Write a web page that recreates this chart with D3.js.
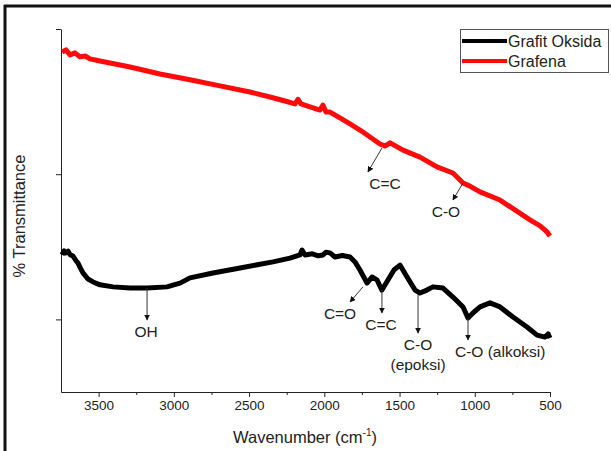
<!DOCTYPE html>
<html>
<head>
<meta charset="utf-8">
<script src="https://cdn.jsdelivr.net/npm/d3@7"></script>
<style>
  body { margin: 0; background: #fff; }
  svg text { font-family: "Liberation Sans", Arial, sans-serif; fill: #222; }
</style>
</head>
<body>
<svg id="chart" width="611" height="451"></svg>
<script>
// Grafit Oksida (wavenumber cm-1, transmittance a.u.)
const oksidaWn = [3743, 3730, 3717, 3703, 3690, 3670, 3650, 3637, 3620, 3604, 3571, 3537, 3491, 3404, 3291,
    3178, 3046, 2959, 2893, 2740, 2560, 2341, 2228, 2162, 2148, 2128, 2080, 2040, 2009, 1990, 1962, 1929,
    1880, 1829, 1796, 1763, 1716, 1683, 1650, 1617, 1577, 1537, 1497, 1450, 1397, 1364, 1318, 1278, 1211,
    1145, 1078, 1045, 1012, 965, 899, 832, 746, 653, 586, 533, 513, 500];
const oksidaT = [47.2, 48.6, 47.9, 48.5, 47.3, 46.8, 45.2, 44.4, 42.6, 41.0, 38.9, 37.9, 36.9, 36.2, 35.8,
    35.8, 36.2, 37.5, 39.3, 41.0, 42.7, 44.8, 46.1, 47.2, 48.9, 47.2, 47.6, 46.9, 47.2, 48.1, 47.9, 46.5,
    47.0, 46.5, 44.8, 42.0, 37.5, 39.6, 38.6, 35.1, 38.6, 42.0, 43.7, 39.6, 35.1, 34.1, 35.1, 36.2, 35.8,
    32.7, 29.3, 25.5, 27.2, 29.3, 30.7, 29.3, 25.8, 22.4, 19.6, 18.9, 20.0, 18.6];

// Grafena
const grafenaWn = [3743, 3717, 3690, 3657, 3624, 3590, 3557, 3491, 3424, 3291, 3092, 2893, 2693, 2494, 2361,
    2261, 2195, 2175, 2155, 2095, 2029, 2009, 1989, 1962, 1896, 1829, 1763, 1696, 1630, 1597, 1563, 1477,
    1364, 1251, 1145, 1078, 1032, 965, 832, 733, 633, 566, 520, 500];
const grafenaT = [117.1, 117.8, 116.1, 116.8, 115.4, 115.7, 114.7, 114.0, 113.3, 111.9, 109.5, 107.5, 105.4,
    103.3, 101.6, 100.2, 99.2, 100.8, 99.2, 98.2, 97.1, 98.8, 96.4, 96.4, 94.4, 92.3, 90.2, 87.8, 85.4, 84.7,
    85.8, 83.3, 80.9, 77.5, 75.4, 72.0, 70.9, 68.9, 66.1, 62.7, 59.3, 57.2, 55.1, 53.7];

const xTicks = [3500, 3000, 2500, 2000, 1500, 1000, 500];
const xMinorTicks = [3250, 2750, 2250, 1750, 1250, 750];
const yTicks = [25, 75, 125];

const seriesNames = ["Grafit Oksida", "Grafena"];
const seriesColors = ["#000000", "#ff0a0a"];

// peak labels: arrow from (wn, t) to (wn2, t2)
const peaks = [
    {lines: ["OH"], wn: 3178, t: 35.8, wn2: 3178, t2: 24.8, anchor: "middle", dx: -1},
    {lines: ["C=O"], wn: 1743, t: 36.2, wn2: 1829, t2: 31.0, anchor: "middle", dx: -10},
    {lines: ["C=C"], wn: 1617, t: 35.1, wn2: 1617, t2: 27.2, anchor: "middle", dx: -1},
    {lines: ["C-O", "(epoksi)"], wn: 1377, t: 33.4, wn2: 1377, t2: 20.3, anchor: "middle", dx: 0},
    {lines: ["C-O (alkoksi)"], wn: 1045, t: 25.5, wn2: 1045, t2: 17.9, anchor: "start", dx: -13},
    {lines: ["C=C"], wn: 1617, t: 84.0, wn2: 1710, t2: 75.8, anchor: "middle", dx: 17},
    {lines: ["C-O"], wn: 1078, t: 72.0, wn2: 1145, t2: 66.1, anchor: "middle", dx: -7}
];

const svg = d3.select("#chart");

// outer frame (top + left edge of the figure box)
svg.append("line").attr("x1", 4).attr("x2", 611).attr("y1", 6).attr("y2", 6)
    .attr("stroke", "#111").attr("stroke-width", 3);
svg.append("line").attr("x1", 5).attr("x2", 5).attr("y1", 5).attr("y2", 451)
    .attr("stroke", "#111").attr("stroke-width", 3);

const x = d3.scaleLinear().domain([3750, 500]).range([61, 550]);
const y = d3.scaleLinear().domain([0, 125]).range([392, 29]);

// axes
const xAxis = svg.append("g").attr("transform", "translate(0,392)")
    .call(d3.axisBottom(x).tickValues(xTicks).tickFormat(d3.format("d"))
        .tickSize(5).tickPadding(3).tickSizeOuter(0));
xAxis.select(".domain").attr("stroke", "#222");
xAxis.selectAll(".tick line").attr("stroke", "#222");
xAxis.selectAll("text").attr("font-size", 13.5).attr("fill", "#222")
    .attr("font-family", "Liberation Sans, Arial, sans-serif");

svg.append("g").attr("transform", "translate(0,392)")
    .call(d3.axisBottom(x).tickValues(xMinorTicks).tickSize(3).tickFormat(""))
    .call(g => g.select(".domain").remove())
    .selectAll(".tick line").attr("stroke", "#222");

const yAxis = svg.append("g").attr("transform", "translate(61,0)")
    .call(d3.axisLeft(y).tickValues(yTicks).tickSize(5).tickFormat("").tickSizeOuter(0));
yAxis.select(".domain").attr("stroke", "#222");
yAxis.selectAll(".tick line").attr("stroke", "#222");

// axis titles
const xt = svg.append("text").attr("x", 305).attr("y", 443).attr("text-anchor", "middle")
    .attr("font-size", 16.5);
xt.append("tspan").text("Wavenumber (cm");
xt.append("tspan").text("-1").attr("font-size", 10).attr("dy", -7);
xt.append("tspan").text(")").attr("dy", 7);

svg.append("text").attr("transform", "translate(25,216) rotate(-90)")
    .attr("text-anchor", "middle").attr("font-size", 16.5).text("% Transmittance");

// spectra
const line = d3.line().x(d => x(d[0])).y(d => y(d[1])).curve(d3.curveLinear);
const oksida = oksidaWn.map((w, i) => [w, oksidaT[i]]);
const grafena = grafenaWn.map((w, i) => [w, grafenaT[i]]);

[oksida, grafena].forEach((data, i) => {
    svg.append("path").datum(data)
        .attr("d", line)
        .attr("fill", "none")
        .attr("stroke", seriesColors[i])
        .attr("stroke-width", 5)
        .attr("stroke-linejoin", "round")
        .attr("stroke-linecap", "butt");
});

// arrows + labels
svg.append("defs").append("marker")
    .attr("id", "head").attr("viewBox", "0 0 10 10")
    .attr("refX", 9).attr("refY", 5)
    .attr("markerWidth", 6).attr("markerHeight", 6)
    .attr("markerUnits", "userSpaceOnUse")
    .attr("orient", "auto")
    .append("path").attr("d", "M0,0 L10,5 L0,10 z").attr("fill", "#111");

peaks.forEach(p => {
    const x1 = x(p.wn), y1 = y(p.t), x2 = x(p.wn2), y2 = y(p.t2);
    svg.append("line")
        .attr("x1", x1).attr("y1", y1).attr("x2", x2).attr("y2", y2)
        .attr("stroke", "#333").attr("stroke-width", 1)
        .attr("marker-end", "url(#head)");
    const t = svg.append("text")
        .attr("text-anchor", p.anchor)
        .attr("font-size", 15.5);
    p.lines.forEach((ln, k) => {
        t.append("tspan").attr("x", x2 + p.dx).attr("y", y2 + 17 + k * 20).text(ln);
    });
});

// legend
const lg = svg.append("g");
lg.append("rect").attr("x", 460.5).attr("y", 29.5).attr("width", 148).attr("height", 43)
    .attr("fill", "#fff").attr("stroke", "#555").attr("stroke-width", 1);
seriesNames.forEach((name, i) => {
    const ly = 41 + i * 20;
    lg.append("line").attr("x1", 462).attr("x2", 507).attr("y1", ly).attr("y2", ly)
        .attr("stroke", seriesColors[i]).attr("stroke-width", 4);
    lg.append("text").attr("x", 508).attr("y", ly + 6).attr("font-size", 16).text(name);
});
</script>
</body>
</html>
